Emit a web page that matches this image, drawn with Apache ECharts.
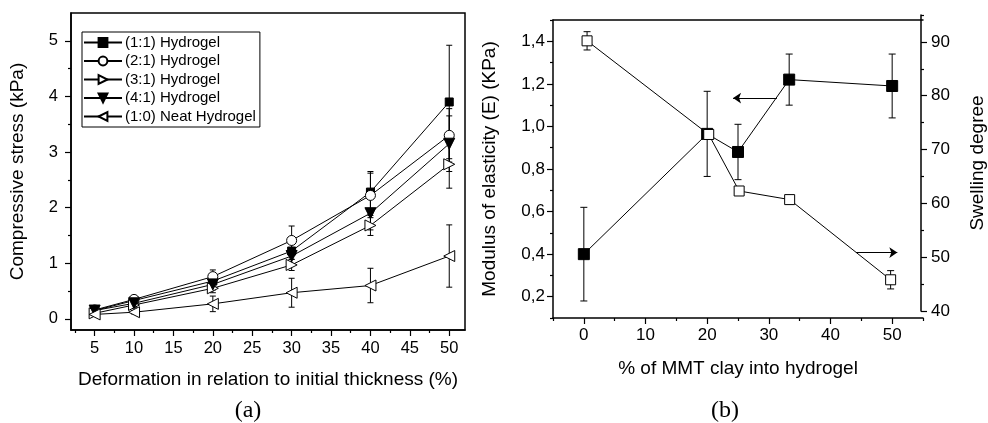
<!DOCTYPE html>
<html>
<head>
<meta charset="utf-8">
<script src="https://cdn.jsdelivr.net/npm/echarts@6/dist/echarts.min.js"></script>
<style>
  html, body { margin: 0; padding: 0; background: #fff; }
  #chart { width: 988px; height: 423px; }
</style>
</head>
<body>
<div id="chart"></div>
<script>
// ---- panel (a): compressive stress vs deformation ----
const deformation = [5, 10, 20, 30, 40, 50];
const stress11 = [0.15, 0.33, 0.68, 1.22, 2.28, 3.9];
const err11 = [0.03, 0.05, 0.1, 0.15, 0.37, 1.02];
const stress21 = [0.16, 0.35, 0.76, 1.41, 2.22, 3.3];
const err21 = [0.03, 0.05, 0.12, 0.26, 0.4, 0.48];
const stress31 = [0.1, 0.25, 0.55, 0.97, 1.68, 2.78];
const err31 = [0.03, 0.04, 0.08, 0.1, 0.18, 0.43];
const stress41 = [0.15, 0.28, 0.62, 1.13, 1.9, 3.15];
const err41 = [0.03, 0.05, 0.1, 0.15, 0.3, 0.5];
const stress10 = [0.08, 0.12, 0.27, 0.47, 0.6, 1.13];
const err10 = [0.02, 0.03, 0.14, 0.26, 0.31, 0.56];
const seriesNamesA = ['(1:1) Hydrogel', '(2:1) Hydrogel', '(3:1) Hydrogel', '(4:1) Hydrogel', '(1:0) Neat Hydrogel'];

const ticksAx = [5, 10, 15, 20, 25, 30, 35, 40, 45, 50];
const minorAx = [2.5, 7.5, 12.5, 17.5, 22.5, 27.5, 32.5, 37.5, 42.5, 47.5];
const ticksAy = [0, 1, 2, 3, 4, 5];
const minorAy = [0.5, 1.5, 2.5, 3.5, 4.5];

// ---- panel (b): modulus and swelling vs clay content ----
const clayModulus = [0, 20, 25, 33.3, 50];
const modulus = [0.4, 0.965, 0.88, 1.22, 1.19];
const modulusErr = [0.22, 0.2, 0.13, 0.12, 0.15];
const claySwelling = [0.6, 20.6, 25.6, 33.9, 50.5];
const swelling = [90.2, 72.8, 62.3, 60.7, 45.8];
const swellingErr = [1.7, 0.5, 0.5, 0.7, 1.7];
const arrowModulus = [[31.3, 1.133], [24.2, 1.133]];
const arrowSwelling = [[44.8, 50.85], [51.6, 50.85]];

const ticksBx = [0, 10, 20, 30, 40, 50];
const minorBx = [-5, 5, 15, 25, 35, 45, 55];
const ticksBy = [0.2, 0.4, 0.6, 0.8, 1.0, 1.2, 1.4];
const minorBy = [0.1, 0.3, 0.5, 0.7, 0.9, 1.1, 1.3, 1.5];
const ticksBr = [40, 50, 60, 70, 80, 90];
const minorBr = [45, 55, 65, 75, 85, 95];

const FONT = 'Liberation Sans, Arial, sans-serif';
const black = '#000';

const zip = (xs, ys) => xs.map((x, i) => [x, ys[i]]);

function errorBars(xs, ys, errs, xi, yi, cap) {
  return {
    type: 'custom',
    xAxisIndex: xi,
    yAxisIndex: yi,
    silent: true,
    z: 1,
    data: xs.map((x, i) => [x, ys[i] - errs[i], ys[i] + errs[i]]),
    encode: { x: 0, y: [1, 2] },
    renderItem: (params, api) => {
      const lo = api.coord([api.value(0), api.value(1)]);
      const hi = api.coord([api.value(0), api.value(2)]);
      const h = cap / 2;
      const st = { stroke: black, lineWidth: 1 };
      return {
        type: 'group',
        children: [
          { type: 'line', shape: { x1: lo[0], y1: lo[1], x2: hi[0], y2: hi[1] }, style: st },
          { type: 'line', shape: { x1: lo[0] - h, y1: lo[1], x2: lo[0] + h, y2: lo[1] }, style: st },
          { type: 'line', shape: { x1: hi[0] - h, y1: hi[1], x2: hi[0] + h, y2: hi[1] }, style: st }
        ]
      };
    }
  };
}

// main ticks + labels axis
function mainAxis(extra, ticks, labelSize, margin, fmt) {
  return Object.assign({
    type: 'value',
    axisLine: { show: true, onZero: false, lineStyle: { color: black, width: 1.5 } },
    axisTick: { show: true, inside: false, length: 6, customValues: ticks, lineStyle: { color: black, width: 1.2 } },
    axisLabel: { customValues: ticks, color: black, fontSize: labelSize, fontFamily: FONT, margin: margin, formatter: fmt },
    splitLine: { show: false },
    nameTextStyle: { color: black, fontSize: 19, fontFamily: FONT },
    nameLocation: 'middle'
  }, extra);
}

// minor tick-only axis
function minorAxis(extra, ticks) {
  return Object.assign({
    type: 'value',
    axisLine: { show: false, onZero: false },
    axisTick: { show: true, inside: false, length: 3, customValues: ticks, lineStyle: { color: black, width: 1.2 } },
    axisLabel: { show: false },
    splitLine: { show: false }
  }, extra);
}

function lineSeries(name, xs, ys, symbol, size, filled, rotate, xi, yi) {
  return {
    name: name,
    type: 'line',
    xAxisIndex: xi,
    yAxisIndex: yi,
    data: zip(xs, ys),
    symbol: symbol,
    symbolSize: size,
    symbolRotate: rotate,
    showSymbol: true,
    z: 3,
    lineStyle: { color: black, width: 1 },
    itemStyle: filled ? { color: black, borderColor: black, borderWidth: 1 }
                      : { color: '#fff', borderColor: black, borderWidth: 1 }
  };
}

const commaFmt = (v) => v.toFixed(1).replace('.', ',');

const chart = echarts.init(document.getElementById('chart'), null, { renderer: 'canvas' });

const option = {
  animation: false,
  backgroundColor: '#fff',
  textStyle: { fontFamily: FONT },
  grid: [
    { left: 71, top: 13, width: 394, height: 317, show: true, borderColor: black, borderWidth: 1.5 },
    { left: 553, top: 20, width: 370, height: 298 },
    { left: 553, top: 15, width: 370, height: 296 }
  ],
  xAxis: [
    mainAxis({ gridIndex: 0, min: 2, max: 52, position: 'bottom',
      name: 'Deformation in relation to initial thickness (%)', nameGap: 40 }, ticksAx, 16.5, 10),
    minorAxis({ gridIndex: 0, min: 2, max: 52, position: 'bottom' }, minorAx),
    mainAxis({ gridIndex: 1, min: -5, max: 55, position: 'bottom',
      name: '% of MMT clay into hydrogel', nameGap: 41 }, ticksBx, 17, 9),
    minorAxis({ gridIndex: 1, min: -5, max: 55, position: 'bottom' }, minorBx),
    { type: 'value', gridIndex: 1, min: -5, max: 55, position: 'top',
      axisLine: { show: true, onZero: false, lineStyle: { color: black, width: 1.5 } },
      axisTick: { show: false }, axisLabel: { show: false }, splitLine: { show: false } },
    { type: 'value', gridIndex: 2, min: -5, max: 55, show: false }
  ],
  yAxis: [
    mainAxis({ gridIndex: 0, min: -0.2, max: 5.5, position: 'left',
      name: 'Compressive stress (kPa)', nameGap: 44 }, ticksAy, 16.5, 13),
    minorAxis({ gridIndex: 0, min: -0.2, max: 5.5, position: 'left' }, minorAy),
    mainAxis({ gridIndex: 1, min: 0.1, max: 1.5, position: 'left',
      name: 'Modulus of elasticity (E) (KPa)', nameGap: 54 }, ticksBy, 17, 8, commaFmt),
    minorAxis({ gridIndex: 1, min: 0.1, max: 1.5, position: 'left' }, minorBy),
    mainAxis({ gridIndex: 2, min: 40, max: 95, position: 'right', offset: 3,
      name: 'Swelling degree', nameGap: 47 }, ticksBr, 17, 10),
    minorAxis({ gridIndex: 2, min: 40, max: 95, position: 'right', offset: 3 }, minorBr)
  ],
  legend: {
    data: seriesNamesA,
    orient: 'vertical',
    left: 82,
    top: 32,
    padding: [3, 4, 3, 1],
    itemWidth: 38,
    itemHeight: 11,
    itemGap: 3.5,
    borderColor: black,
    borderWidth: 1,
    textStyle: { color: black, fontSize: 15, fontFamily: FONT, padding: [0, 0, 0, -2] }
  },
  graphic: [
    { type: 'text', x: 248, y: 411, style: { text: '(a)', font: '24px "Liberation Serif", serif', fill: black, align: 'center', verticalAlign: 'middle' } },
    { type: 'text', x: 725, y: 411, style: { text: '(b)', font: '24px "Liberation Serif", serif', fill: black, align: 'center', verticalAlign: 'middle' } }
  ],
  series: [
    errorBars(deformation, stress11, err11, 0, 0, 6),
    errorBars(deformation, stress21, err21, 0, 0, 6),
    errorBars(deformation, stress31, err31, 0, 0, 6),
    errorBars(deformation, stress41, err41, 0, 0, 6),
    errorBars(deformation, stress10, err10, 0, 0, 6),
    lineSeries(seriesNamesA[0], deformation, stress11, 'rect', 8, true, 0, 0, 0),
    lineSeries(seriesNamesA[1], deformation, stress21, 'circle', 10, false, 0, 0, 0),
    lineSeries(seriesNamesA[2], deformation, stress31, 'triangle', 11, false, -90, 0, 0),
    lineSeries(seriesNamesA[3], deformation, stress41, 'triangle', 11, true, 180, 0, 0),
    lineSeries(seriesNamesA[4], deformation, stress10, 'triangle', 11, false, 90, 0, 0),

    errorBars(clayModulus, modulus, modulusErr, 2, 2, 7),
    errorBars(claySwelling, swelling, swellingErr, 5, 4, 7),
    Object.assign(lineSeries('Modulus', clayModulus, modulus, 'rect', 11, true, 0, 2, 2), {
      markLine: {
        silent: true,
        symbol: ['none', 'arrow'],
        symbolSize: 8,
        lineStyle: { color: black, width: 1, type: 'solid' },
        label: { show: false },
        data: [[{ coord: arrowModulus[0] }, { coord: arrowModulus[1] }]]
      }
    }),
    Object.assign(lineSeries('Swelling', claySwelling, swelling, 'rect', 10, false, 0, 5, 4), {
      markLine: {
        silent: true,
        symbol: ['none', 'arrow'],
        symbolSize: 8,
        lineStyle: { color: black, width: 1, type: 'solid' },
        label: { show: false },
        data: [[{ coord: arrowSwelling[0] }, { coord: arrowSwelling[1] }]]
      }
    })
  ]
};

chart.setOption(option);
</script>
</body>
</html>
